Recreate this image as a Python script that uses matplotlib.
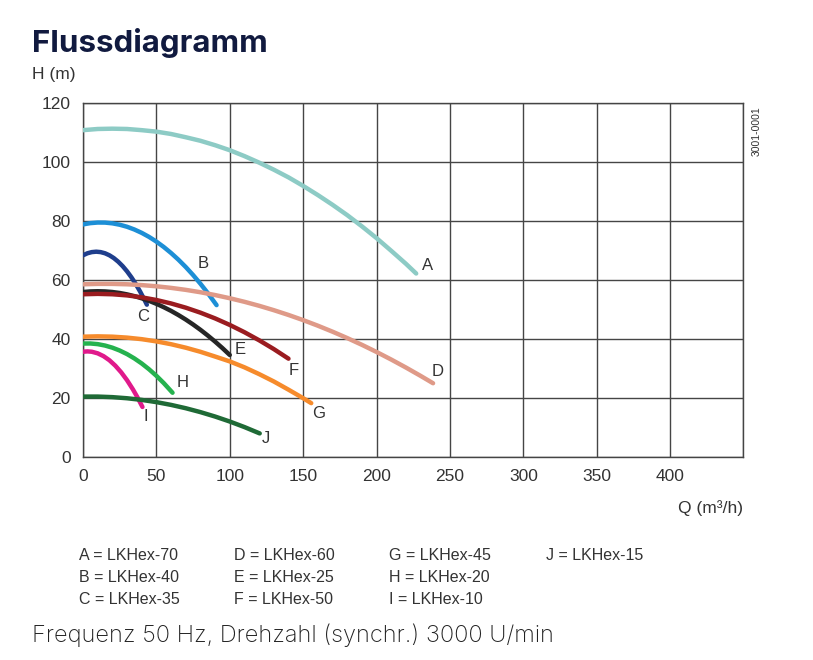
import matplotlib
matplotlib.use("Agg")
import matplotlib.pyplot as plt

# Kennlinien (Q in m3/h, H in m)
q_a = [0, 10, 20, 30, 40, 50, 60, 70, 80, 90, 100, 110, 120, 130, 140, 150, 160, 170, 180, 190, 200, 210, 220, 227]
h_a = [110.8, 111.2, 111.3, 111.2, 110.8, 110.3, 109.5, 108.4, 107.2, 105.7, 104.0, 102.0, 99.8, 97.4, 94.8,
       91.9, 88.8, 85.5, 82.0, 78.2, 74.2, 69.9, 65.5, 62.2]
q_b = [0, 5, 10, 15, 20, 25, 30, 35, 40, 45, 50, 55, 60, 65, 70, 75, 80, 85, 91]
h_b = [78.85, 79.28, 79.48, 79.46, 79.21, 78.74, 78.05, 77.12, 75.98, 74.61, 73.02, 71.2, 69.15, 66.89,
       64.4, 61.68, 58.74, 55.57, 51.48]
q_c = [0, 3, 6, 9, 12, 15, 18, 21, 24, 27, 30, 33, 36, 39, 42, 43.5]
h_c = [68.38, 69.06, 69.46, 69.6, 69.46, 69.06, 68.38, 67.43, 66.2, 64.71, 62.94, 60.9, 58.59, 56.01,
       53.16, 51.63]
q_d = [0, 10, 20, 30, 40, 50, 60, 70, 80, 90, 100, 110, 120, 130, 140, 150, 160, 170, 180, 190, 200,
       210, 220, 230, 238.5]
h_d = [58.55, 58.68, 58.68, 58.55, 58.28, 57.87, 57.33, 56.66, 55.85, 54.9, 53.82, 52.61, 51.26, 49.77,
       48.15, 46.4, 44.51, 42.48, 40.32, 38.03, 35.6, 33.03, 30.33, 27.5, 25.0]
q_e = [0, 5, 10, 15, 20, 25, 30, 35, 40, 45, 50, 55, 60, 65, 70, 75, 80, 85, 90, 95, 100]
h_e = [55.93, 56.13, 56.2, 56.13, 55.93, 55.6, 55.13, 54.53, 53.8, 52.93, 51.93, 50.79, 49.53, 48.12,
       46.59, 44.92, 43.12, 41.18, 39.11, 36.91, 34.57]
q_f = [0, 10, 20, 30, 40, 50, 60, 70, 80, 90, 100, 110, 120, 130, 140]
h_f = [55.17, 55.3, 55.17, 54.78, 54.13, 53.22, 52.05, 50.62, 48.93, 46.98, 44.77, 42.3, 39.57, 36.58, 33.33]
q_g = [0, 10, 20, 30, 40, 50, 60, 70, 80, 90, 100, 110, 120, 130, 140, 150, 155.5]
h_g = [40.79, 40.9, 40.79, 40.47, 39.94, 39.19, 38.23, 37.05, 35.66, 34.05, 32.4, 30.4, 28.1, 25.6,
       22.82, 19.93, 18.25]
q_h = [0, 5, 10, 15, 20, 25, 30, 35, 40, 45, 50, 55, 61]
h_h = [38.46, 38.48, 38.26, 37.78, 37.06, 36.09, 34.88, 33.41, 31.7, 29.73, 27.52, 25.06, 21.78]
q_i = [0, 3, 6, 10, 14, 18, 22, 26, 30, 34, 37, 40.5]
h_i = [35.68, 35.8, 35.68, 35.14, 34.18, 32.79, 30.96, 28.71, 26.03, 22.92, 20.31, 16.96]
q_j = [0, 10, 20, 30, 40, 50, 60, 70, 80, 90, 100, 110, 120.4]
h_j = [20.48, 20.48, 20.29, 19.91, 19.35, 18.6, 17.66, 16.53, 15.21, 13.71, 12.02, 10.14, 7.99]

letters = ["A", "B", "C", "D", "E", "F", "G", "H", "I", "J"]
models = ["LKHex-70", "LKHex-40", "LKHex-35", "LKHex-60", "LKHex-25",
          "LKHex-50", "LKHex-45", "LKHex-20", "LKHex-10", "LKHex-15"]
x_ticks = [0, 50, 100, 150, 200, 250, 300, 350, 400]
y_ticks = [0, 20, 40, 60, 80, 100, 120]

curves = [(q_a, h_a), (q_b, h_b), (q_c, h_c), (q_d, h_d), (q_e, h_e),
          (q_f, h_f), (q_g, h_g), (q_h, h_h), (q_i, h_i), (q_j, h_j)]

colors = ["#8dcbc5", "#1d8fd6", "#1f3e8c", "#df9a88", "#262626",
          "#9a1c20", "#f68b2c", "#25b24e", "#e01a8b", "#1f6a36"]
# Versatz der Buchstaben vom Kurvenende (Pixel, x nach rechts, y nach oben)
label_off = [(11, 8), (-13, 42), (-4, -12), (5, 12), (10, 6),
             (5, -12), (7, -10), (10, 10), (3, -10), (6, -5)]

fig = plt.figure(figsize=(8.13, 6.6), dpi=100)
ax = fig.add_axes([0.1021, 0.3076, 0.8124, 0.5363])

grid_col = "#454545"
for (q, h), c in zip(curves, colors):
    ax.plot(q, h, color=c, lw=3.2, solid_capstyle="round", solid_joinstyle="round", zorder=3)

for (q, h), l, (dx, dy) in zip(curves, letters, label_off):
    ax.annotate(l, xy=(q[-1], h[-1]), xytext=(dx * 0.72, dy * 0.72), textcoords="offset points",
                ha="center", va="center", fontsize=12, color="#333333", family="Liberation Sans")

ax.set_xlim(0, 450)
ax.set_ylim(0, 120)
ax.set_xticks(list(range(0, 451, 50)))
ax.set_yticks(y_ticks)
ax.set_xticklabels([str(v) for v in x_ticks] + [""])
ax.set_yticklabels([str(v) for v in y_ticks])
ax.tick_params(length=0, labelsize=12.5, labelcolor="#333333", pad=9)
for t in ax.get_xticklabels() + ax.get_yticklabels():
    t.set_family("Liberation Sans")
ax.grid(True, color=grid_col, lw=1.0)
ax.set_axisbelow(True)
for s in ax.spines.values():
    s.set_color(grid_col)
    s.set_linewidth(1.0)

fig.text(32 / 813, 1 - 43 / 660, "Flussdiagramm", fontsize=22.5, fontweight="bold",
         color="#111a3f", family="Inter", va="center", ha="left")
fig.text(32 / 813, 1 - 74 / 660, "H (m)", fontsize=12.5, color="#333333",
         family="Liberation Sans", va="center", ha="left")
fig.text(743 / 813, 1 - 508 / 660, "Q (m³/h)", fontsize=12.5, color="#333333",
         family="Liberation Sans", va="center", ha="right")
fig.text(757 / 813, 1 - 131 / 660, "3001-0001", fontsize=7.5, color="#333333",
         family="Liberation Sans", rotation=90, va="center", ha="center")

col_x = [79, 234, 389, 546]
row_y = [555, 577, 599]
for i, (l, m) in enumerate(zip(letters, models)):
    fig.text(col_x[i // 3] / 813, 1 - row_y[i % 3] / 660, f"{l} = {m}", fontsize=11.5,
             color="#333333", family="Liberation Sans", va="center", ha="left")

fig.text(32 / 813, 1 - 635 / 660, "Frequenz 50 Hz, Drehzahl (synchr.) 3000 U/min",
         fontsize=17, color="#222222", family="Inter", fontweight="light",
         va="center", ha="left")

fig.savefig("out.png", dpi=100)
